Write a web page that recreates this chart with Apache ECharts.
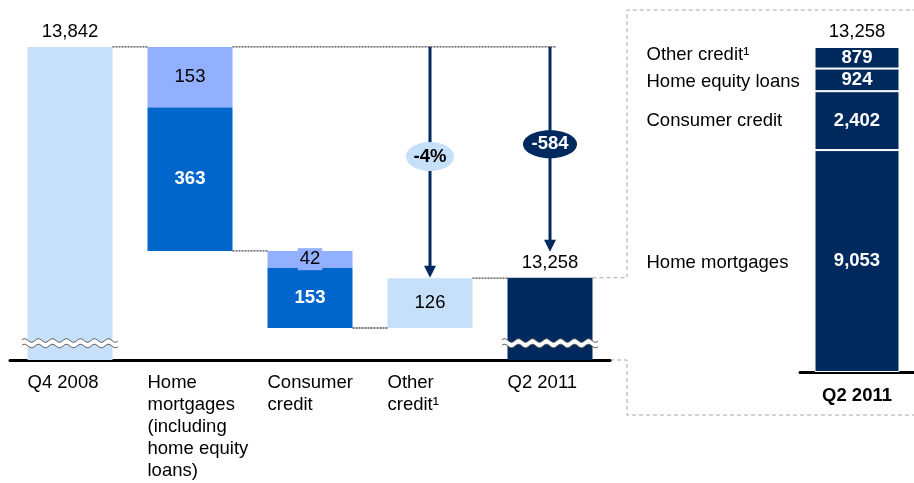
<!DOCTYPE html>
<html><head><meta charset="utf-8">
<script src="https://cdn.jsdelivr.net/npm/echarts@6/dist/echarts.min.js"></script>
<style>html,body{margin:0;padding:0;background:#fff}#c{width:914px;height:483px}</style>
</head><body><div id="c"></div>
<script>
// ---------------- data ----------------
const categories = ['Q4 2008', 'Home\nmortgages\n(including\nhome equity\nloans)', 'Consumer\ncredit', 'Other\ncredit¹', 'Q2 2011'];
const startTotal = 13842;
const endTotal = 13258;
const lowerSegment = [null, 363, 153, 126, null];
const upperSegment = [null, 153, 42, null, null];
const stepDirection = [0, -1, -1, 1, 0];

const breakdownCategories = ['Q2 2011'];
const breakdownNames = ['Home mortgages', 'Consumer credit', 'Home equity loans', 'Other credit¹'];
const breakdownValues = [9053, 2402, 924, 879];

// ---------------- styling ----------------
const FONT = '"Liberation Sans", Arial, sans-serif';
const FS = 18.5;
const NAVY = '#002a5e';
const BLUE = '#0066cc';
const PERI = '#93afff';
const LIGHT = '#c7e0f9';
const BAR_W = 85;
const Y_MIN = 13050, Y_MAX = 13910;

// derived waterfall values
const base = categories.map(() => null);
const levelAfter = categories.map(() => null);
let level = startTotal;
levelAfter[0] = startTotal;
for (let i = 1; i < categories.length - 1; i++) {
  const step = (lowerSegment[i] || 0) + (upperSegment[i] || 0);
  if (stepDirection[i] < 0) { level -= step; base[i] = level; }
  else { base[i] = level; level += step; }
  levelAfter[i] = level;
}
const fmt = v => Number(v).toLocaleString('en-US');
const totals = categories.map((c, i) => i === 0 ? startTotal : (i === categories.length - 1 ? endTotal : null));

const connectors = [];
for (let i = 0; i < categories.length - 1; i++) connectors.push([i, i + 1, levelAfter[i], 0]);
connectors.push([1, categories.length - 1, startTotal, 1]);

const change = endTotal - startTotal;
const arrowData = [[3, startTotal, endTotal], [4, startTotal, endTotal]];
const arrowSpecs = [
  { text: Math.round(change / startTotal * 100) + '%', gap: 0, rx: 24, ry: 14.5, fill: LIGHT, color: '#000' },
  { text: String(change), gap: 26, rx: 27, ry: 14, fill: NAVY, color: '#fff' }
];
const breakData = categories.map((c, i) => stepDirection[i] === 0 ? [i, Y_MIN] : null).filter(Boolean);

function ellipsePts(cx, cy, rx, ry) {
  const p = [];
  for (let k = 0; k < 60; k++) { const a = k / 60 * Math.PI * 2; p.push([cx + rx * Math.cos(a), cy + ry * Math.sin(a)]); }
  return p;
}
function renderConnector(params, api) {
  const a = api.coord([api.value(0), api.value(2)]);
  const b = api.coord([api.value(1), api.value(2)]);
  const x0 = a[0] + BAR_W / 2;
  const x1 = api.value(3) ? b[0] + 6 : b[0] - BAR_W / 2;
  return { type: 'line', shape: { x1: x0, y1: a[1], x2: x1, y2: b[1] },
    style: { stroke: '#444', lineWidth: 1.3, lineDash: [2, 1] } };
}
function renderArrow(params, api) {
  const s = arrowSpecs[params.dataIndex];
  const top = api.coord([api.value(0), api.value(1)]);
  const end = api.coord([api.value(0), api.value(2)]);
  const x = top[0];
  const tipY = end[1] - s.gap;
  const head = 12;
  const cy = top[1] + (tipY - top[1]) * 0.475;
  return { type: 'group', children: [
    { type: 'line', shape: { x1: x, y1: top[1], x2: x, y2: tipY - head + 1 }, style: { stroke: NAVY, lineWidth: 3 } },
    { type: 'polygon', shape: { points: [[x - 6, tipY - head], [x + 6, tipY - head], [x, tipY]] }, style: { fill: NAVY } },
    { type: 'polygon', shape: { points: ellipsePts(x, cy, s.rx, s.ry) }, style: { fill: s.fill } },
    { type: 'text', style: { text: s.text, x: x, y: cy, align: 'center', verticalAlign: 'middle',
      font: 'bold ' + FS + 'px ' + FONT, fill: s.color } }
  ] };
}
function renderBreak(params, api) {
  const p = api.coord([api.value(0), api.value(1)]);
  const cx = p[0], by = p[1];
  const half = 48, period = 14, amp = 1.8;
  const yTop = by - 19.5, yBot = by - 14;
  const top = [], bot = [];
  for (let x = -half; x <= half; x += 1) top.push([cx + x, yTop + amp * Math.sin(2 * Math.PI * x / period)]);
  for (let x = half; x >= -half; x -= 1) bot.push([cx + x, yBot + amp * Math.sin(2 * Math.PI * x / period)]);
  return { type: 'group', children: [
    { type: 'polygon', shape: { points: top.concat(bot) }, style: { fill: '#fff' } },
    { type: 'polyline', shape: { points: top }, style: { stroke: '#555', lineWidth: 0.9, fill: null } },
    { type: 'polyline', shape: { points: bot.slice().reverse() }, style: { stroke: '#555', lineWidth: 0.9, fill: null } }
  ] };
}

const series = [
  { type: 'bar', name: 'base', stack: 'w', xAxisIndex: 0, yAxisIndex: 0, barWidth: BAR_W,
    data: base.map(v => v == null ? '-' : v), itemStyle: { color: 'transparent' }, silent: true },
  { type: 'bar', name: 'total', stack: 'w', xAxisIndex: 0, yAxisIndex: 0, barWidth: BAR_W,
    data: totals.map((v, i) => v == null ? '-' : { value: v, itemStyle: { color: i === 0 ? LIGHT : NAVY } }),
    label: { show: true, position: 'top', distance: 5, formatter: p => fmt(p.value),
      fontFamily: FONT, fontSize: FS, color: '#000' } },
  { type: 'bar', name: 'lower', stack: 'w', xAxisIndex: 0, yAxisIndex: 0, barWidth: BAR_W,
    data: lowerSegment.map((v, i) => v == null ? '-' : (stepDirection[i] > 0
      ? { value: v, itemStyle: { color: LIGHT }, label: { color: '#000', fontWeight: 'normal' } }
      : { value: v, itemStyle: { color: BLUE } })),
    label: { show: true, position: 'inside', formatter: p => fmt(p.value),
      fontFamily: FONT, fontSize: FS, color: '#fff', fontWeight: 'bold' } },
  { type: 'bar', name: 'upper', stack: 'w', xAxisIndex: 0, yAxisIndex: 0, barWidth: BAR_W,
    data: upperSegment.map(v => v == null ? '-' : v),
    itemStyle: { color: PERI },
    label: { show: true, position: 'inside', formatter: p => fmt(p.value),
      fontFamily: FONT, fontSize: FS, color: '#000', backgroundColor: PERI, padding: [2, 2, 1, 2] } },
  { type: 'custom', name: 'breaks', xAxisIndex: 0, yAxisIndex: 0, z: 5, silent: true,
    encode: { x: 0, y: 1 }, data: breakData, renderItem: renderBreak },
  { type: 'custom', name: 'connectors', xAxisIndex: 0, yAxisIndex: 0, z: 4, silent: true,
    encode: { x: [0, 1], y: 2 }, data: connectors, renderItem: renderConnector },
  { type: 'custom', name: 'arrows', xAxisIndex: 0, yAxisIndex: 0, z: 6, silent: true,
    encode: { x: 0, y: [1, 2] }, data: arrowData, renderItem: renderArrow }
];

const breakdownTotal = breakdownValues.reduce((a, b) => a + b, 0);
const nameOffsets = [[0, 2], [0, 0], [0, 2], [0, -3]];
breakdownValues.forEach((v, i) => {
  const s = { type: 'bar', name: breakdownNames[i], stack: 'r', xAxisIndex: 1, yAxisIndex: 1,
    barWidth: BAR_W, barGap: '-100%', data: [v],
    itemStyle: { color: NAVY, borderColor: '#fff', borderWidth: 1 },
    label: { show: true, position: 'inside', formatter: p => fmt(p.value),
      fontFamily: FONT, fontSize: FS, fontWeight: 'bold', color: '#fff' } };
  if (i === breakdownValues.length - 1) {
    s.markPoint = { symbol: 'rect', symbolSize: 1, itemStyle: { color: 'transparent' },
      data: [{ coord: [0, breakdownTotal], value: breakdownTotal }],
      label: { show: true, position: 'top', distance: 5, formatter: p => fmt(p.value),
        fontFamily: FONT, fontSize: FS, color: '#000' } };
  }
  series.push(s);
});
breakdownValues.forEach((v, i) => {
  series.push({ type: 'bar', name: breakdownNames[i] + ' name', stack: 'n', xAxisIndex: 1, yAxisIndex: 1,
    barWidth: BAR_W, barGap: '-100%', data: [v], silent: true,
    itemStyle: { color: 'transparent' },
    label: { show: true, position: 'left', distance: 16, offset: nameOffsets[i],
      formatter: () => '{n|' + breakdownNames[i] + '}',
      rich: { n: { width: 152, align: 'left', fontFamily: FONT, fontSize: FS, color: '#000' } } } });
});

const chart = echarts.init(document.getElementById('c'), null, { renderer: 'canvas' });
chart.setOption({
  animation: false,
  backgroundColor: '#fff',
  grid: [
    { left: 10, width: 600, top: 20, bottom: 123 },
    { left: 800, width: 122, top: 47, bottom: 111 }
  ],
  xAxis: [
    { type: 'category', gridIndex: 0, data: categories,
      axisLine: { lineStyle: { color: '#000', width: 3 } }, axisTick: { show: false },
      axisLabel: { margin: 12, interval: 0, align: 'center',
        formatter: v => v.split('\n').map(l => '{a|' + l + '}').join('\n'),
        rich: { a: { width: BAR_W, align: 'left', lineHeight: 22, fontFamily: FONT, fontSize: FS, color: '#000' } } } },
    { type: 'category', gridIndex: 1, data: breakdownCategories,
      axisLine: { lineStyle: { color: '#000', width: 3 } }, axisTick: { show: false },
      axisLabel: { margin: 14, fontFamily: FONT, fontSize: FS, fontWeight: 'bold', color: '#000' } }
  ],
  yAxis: [
    { type: 'value', gridIndex: 0, min: Y_MIN, max: Y_MAX, show: false, splitLine: { show: false } },
    { type: 'value', gridIndex: 1, min: 0, max: breakdownTotal, show: false, splitLine: { show: false } }
  ],
  series: series
});

// callout dashed frame linking the Q2 2011 bar to the breakdown panel
const q2 = chart.convertToPixel({ gridIndex: 0 }, [categories.length - 1, endTotal]);
const axisEnd = chart.convertToPixel({ gridIndex: 0 }, [categories.length - 1, Y_MIN]);
const q2Right = q2[0] + BAR_W / 2;
const boxL = 627, boxT = 10, boxB = 415, boxR = 914;
const dash = { stroke: '#a8a8a8', lineWidth: 1, lineDash: [4, 3], fill: null };
chart.setOption({
  graphic: [
    { type: 'polyline', silent: true, shape: { points: [[q2Right, q2[1]], [boxL, q2[1]], [boxL, boxT], [boxR, boxT]] }, style: dash },
    { type: 'polyline', silent: true, shape: { points: [[axisEnd[0] + 60, axisEnd[1]], [boxL, axisEnd[1]], [boxL, boxB], [boxR, boxB]] }, style: dash }
  ]
});
</script>
</body></html>
